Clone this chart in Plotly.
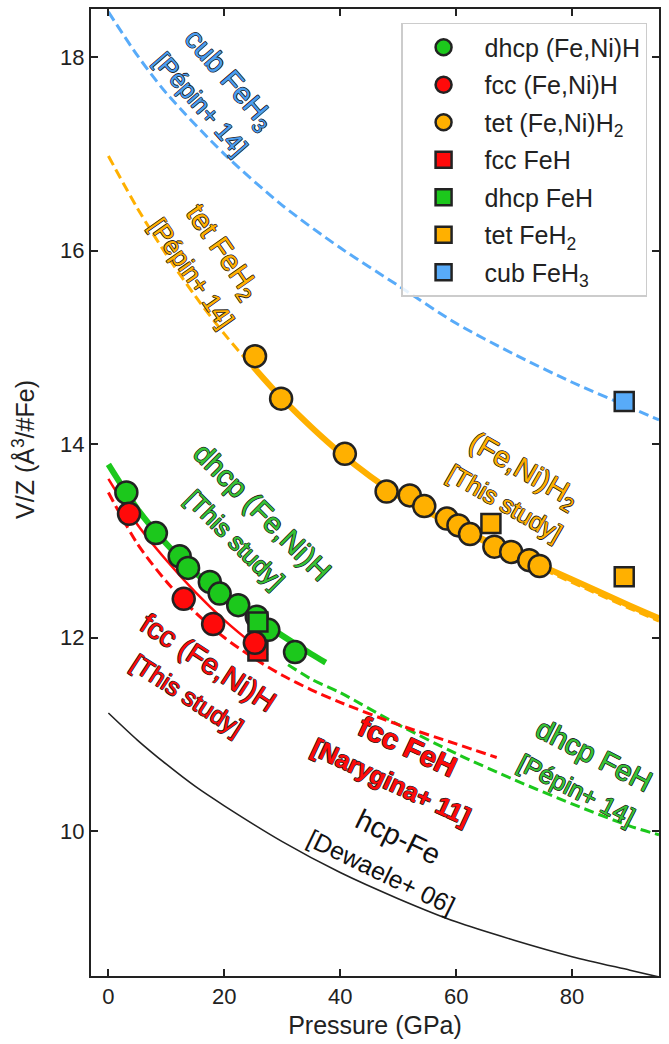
import plotly.graph_objects as go

# ---------------- measured volumes (V/Z, Å^3 per Fe) ----------------
dhcp_feni_h_p = [3.1, 8.2, 12.3, 13.75, 17.5, 19.2, 22.4, 25.6, 27.6, 32.2]
dhcp_feni_h_v = [13.50, 13.08, 12.84, 12.72, 12.575, 12.455, 12.335, 12.215, 12.08, 11.85]

fcc_feni_h_p = [3.56, 13.0, 18.07, 25.27]
fcc_feni_h_v = [13.28, 12.40, 12.14, 11.945]

tet_feni_h2_p = [25.3, 29.8, 40.8, 48.0, 52.0, 54.5, 58.4, 60.4, 62.4, 66.6, 69.5, 72.6, 74.4]
tet_feni_h2_v = [14.91, 14.47, 13.90, 13.51, 13.47, 13.36, 13.23, 13.16, 13.07, 12.94, 12.885, 12.80, 12.74]

fcc_feh_p = [25.8]
fcc_feh_v = [11.86]
dhcp_feh_p = [25.8]
dhcp_feh_v = [12.16]
tet_feh2_p = [66.0, 89.0]
tet_feh2_v = [13.18, 12.63]
cub_feh3_p = [89.0]
cub_feh3_v = [14.44]

# ---------------- equation-of-state curves ----------------
cub_feh3_eos_p = [0, 5, 10, 20, 30, 40, 50, 60, 70, 80, 90, 95]
cub_feh3_eos_v = [18.47, 18.02, 17.63, 17.00, 16.47, 16.03, 15.64, 15.25, 14.93, 14.64, 14.38, 14.25]

tet_feh2_eos_p = [0, 5, 10, 15, 20, 25, 30, 40, 50, 60, 70, 80, 90, 95]
tet_feh2_eos_v = [16.98, 16.44, 15.96, 15.53, 15.14, 14.79, 14.46, 13.90, 13.45, 13.12, 12.84, 12.57, 12.30, 12.17]

tet_feni_h2_fit_p = [25, 30, 40, 50, 60, 70, 80, 90, 95]
tet_feni_h2_fit_v = [14.80, 14.47, 13.91, 13.47, 13.15, 12.87, 12.60, 12.33, 12.20]

dhcp_feni_h_fit_p = [0, 5, 10, 15, 20, 25, 30, 35, 37.5]
dhcp_feni_h_fit_v = [13.79, 13.33, 12.97, 12.67, 12.43, 12.22, 12.02, 11.83, 11.74]

dhcp_feh_eos_p = [31, 35, 40, 50, 60, 70, 80, 90, 95]
dhcp_feh_eos_v = [11.72, 11.57, 11.43, 11.10, 10.80, 10.53, 10.28, 10.05, 9.96]

fcc_feni_h_fit_p = [0, 5, 10, 15, 20, 25, 27.5]
fcc_feni_h_fit_v = [13.64, 13.17, 12.80, 12.47, 12.18, 11.93, 11.82]

fcc_feh_eos_p = [0, 5, 10, 15, 20, 25, 30, 35, 40, 50, 60, 67]
fcc_feh_eos_v = [13.50, 12.97, 12.58, 12.26, 12.00, 11.79, 11.61, 11.46, 11.33, 11.10, 10.90, 10.76]

hcp_fe_eos_p = [0, 5, 10, 15, 20, 30, 40, 50, 60, 70, 80, 90, 95]
hcp_fe_eos_v = [11.22, 10.94, 10.69, 10.46, 10.26, 9.89, 9.57, 9.30, 9.06, 8.87, 8.70, 8.56, 8.49]

GREEN = "#1cc81c"
RED = "#ff0a0a"
ORANGE = "#ffb000"
BLUE = "#58abf9"
EDGE = "#222222"
FONT = "Liberation Sans, Arial, Helvetica, sans-serif"

fig = go.Figure()


def curve(p, v, color, width, dash="solid"):
    fig.add_trace(go.Scatter(
        x=p, y=v, mode="lines", showlegend=False, hoverinfo="skip",
        line=dict(color=color, width=width, dash=dash, shape="spline", smoothing=0.8),
    ))


DASH = "10px,5px"
curve(hcp_fe_eos_p, hcp_fe_eos_v, EDGE, 1.6)
curve(cub_feh3_eos_p, cub_feh3_eos_v, BLUE, 3, DASH)
curve(tet_feh2_eos_p, tet_feh2_eos_v, ORANGE, 3, DASH)
curve(tet_feni_h2_fit_p, tet_feni_h2_fit_v, ORANGE, 6)
curve(dhcp_feh_eos_p, dhcp_feh_eos_v, GREEN, 3, DASH)
curve(fcc_feh_eos_p, fcc_feh_eos_v, RED, 3, DASH)
curve(dhcp_feni_h_fit_p, dhcp_feni_h_fit_v, GREEN, 6)
curve(fcc_feni_h_fit_p, fcc_feni_h_fit_v, RED, 2.5)


def points(p, v, color, symbol, name, rank, size):
    fig.add_trace(go.Scatter(
        x=p, y=v, mode="markers", name=name, legendgroup=name, legendrank=rank,
        marker=dict(color=color, symbol=symbol, size=size,
                    line=dict(color=EDGE, width=2.5)),
    ))


points(fcc_feh_p, fcc_feh_v, RED, "square", "fcc FeH", 4, 19)
points(dhcp_feni_h_p, dhcp_feni_h_v, GREEN, "circle", "dhcp (Fe,Ni)H", 1, 22)
points(fcc_feni_h_p, fcc_feni_h_v, RED, "circle", "fcc (Fe,Ni)H", 2, 22)
points(tet_feni_h2_p, tet_feni_h2_v, ORANGE, "circle", "tet (Fe,Ni)H<sub>2</sub>", 3, 22)
points(dhcp_feh_p, dhcp_feh_v, GREEN, "square", "dhcp FeH", 5, 19)
points(tet_feh2_p, tet_feh2_v, ORANGE, "square", "tet FeH<sub>2</sub>", 6, 19)
points(cub_feh3_p, cub_feh3_v, BLUE, "square", "cub FeH<sub>3</sub>", 7, 19)

# thin dark rim around the coloured label text
OUTLINE = ("0.6px 0.6px 0 #222, -0.6px -0.6px 0 #222, "
           "0.6px -0.6px 0 #222, -0.6px 0.6px 0 #222")


def label(x, y, line1, line2, color, angle, s1=29, s2=25, bold=False, outline=True):
    if bold:
        line1, line2 = f"<b>{line1}</b>", f"<b>{line2}</b>"
    txt = f"{line1}<br><span style='font-size:{s2}px'>{line2}</span>"
    fig.add_annotation(
        x=x, y=y, xref="x", yref="y", text=txt, showarrow=False,
        textangle=angle, align="center",
        font=dict(family=FONT, size=s1, color=color,
                  shadow=OUTLINE if outline else "none"),
    )


label(18.6, 17.66, "cub FeH<sub>3</sub>", "[Pépin+ 14]", "#4a9ef0", 49)
label(17.3, 15.89, "tet FeH<sub>2</sub>", "[Pépin+ 14]", ORANGE, 55)
label(24.4, 13.16, "dhcp (Fe,Ni)H", "[This study]", "#36c236", 45)
label(15.6, 11.58, "fcc (Fe,Ni)H", "[This study]", RED, 33)
label(70.2, 13.57, "(Fe,Ni)H<sub>2</sub>", "[This study]", ORANGE, 30)
label(50.3, 10.70, "fcc FeH", "[Narygina+ 11]", RED, 25, bold=True)
label(82.3, 10.61, "dhcp FeH", "[Pépin+ 14]", "#36c236", 27)
label(48.6, 9.77, "hcp-Fe", "[Dewaele+ 06]", "#111111", 26, outline=False)

# y-axis title
fig.add_annotation(
    x=-0.118, y=0.545, xref="paper", yref="paper", text="V/Z (Å<sup>3</sup>/#Fe)",
    showarrow=False, textangle=-90, xanchor="center", yanchor="middle",
    font=dict(family=FONT, size=25, color=EDGE),
)

axis_common = dict(
    showgrid=False, zeroline=False, showline=True, linecolor=EDGE, linewidth=2,
    mirror="ticks", ticks="inside", ticklen=7, tickwidth=1.5, tickcolor=EDGE,
    tickfont=dict(family=FONT, size=22, color=EDGE),
)

fig.update_layout(
    width=669, height=1044,
    margin=dict(l=91, r=10, t=7, b=68),
    paper_bgcolor="white", plot_bgcolor="white",
    font=dict(family=FONT, color=EDGE),
    xaxis=dict(range=[-3, 95], tickvals=[0, 20, 40, 60, 80],
               title=dict(text="Pressure (GPa)", font=dict(family=FONT, size=25, color=EDGE),
                          standoff=8),
               **axis_common),
    yaxis=dict(range=[8.5, 18.5], tickvals=[10, 12, 14, 16, 18], **axis_common),
    legend=dict(
        x=0.979, y=0.9856, xanchor="right", yanchor="top",
        bgcolor="rgba(255,255,255,0.85)", bordercolor="#cccccc", borderwidth=1.5,
        font=dict(family=FONT, size=25, color=EDGE),
        traceorder="grouped", tracegroupgap=2, itemwidth=72,
    ),
    showlegend=True,
)

fig.write_html("out.html")
